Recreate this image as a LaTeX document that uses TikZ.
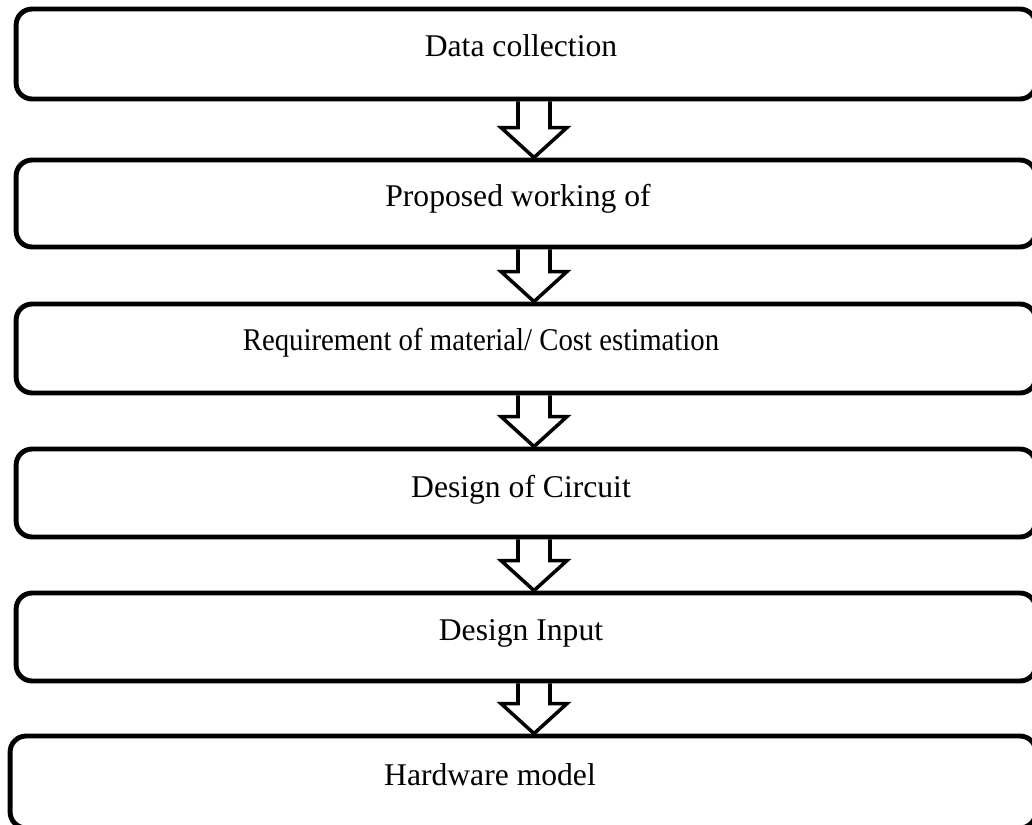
\documentclass[tikz,border=0pt]{standalone}
\usepackage{fontspec}
\setmainfont{Liberation Serif}
\usepackage{graphicx}
\usepackage{tikz}
\usetikzlibrary{positioning,calc}

% hollow block arrow between two stages, along the column (col)
\newcommand{\hollowarrow}[2]{%
  \draw[flow] ($(col |- #1.south)+(-16,0)$) -- ($(col |- #2.north)+(-16,-30)$)
    -- ($(col |- #2.north)+(-33,-30)$) -- (col |- #2.north)
    -- ($(col |- #2.north)+(33,-30)$) -- ($(col |- #2.north)+(16,-30)$)
    -- ($(col |- #1.south)+(16,0)$);}

\begin{document}
\begin{tikzpicture}[x=0.02cm, y=-0.02cm,
    stage/.style={draw, line width=2.8pt, rounded corners=0.32cm, inner sep=0pt,
                  minimum width=20.4cm},
    caption/.style={anchor=base, font=\fontsize{18}{22}\selectfont},
    flow/.style={line width=2pt, line join=miter}]
    \useasboundingbox (0,0) rectangle (1032,825);

    % Stages
    \node[stage, minimum height=1.8cm]  (s1) at (526,54)    {};
    \node[stage, minimum height=1.74cm] (s2) at (526,203.5) {};
    \node[stage, minimum height=1.78cm] (s3) at (526,348.5) {};
    \node[stage, minimum height=1.76cm] (s4) at (526,493)   {};
    \node[stage, minimum height=1.76cm] (s5) at (526,637)   {};
    \node[stage, minimum height=1.84cm, minimum width=20.52cm] (s6) at (523,782) {};

    % Captions
    \node[caption] (t1) at (521,56)  {Data collection};
    \node[caption] (t2) at (518,206) {Proposed working of};
    \node[caption] (t3) at (481,350)
        {\scalebox{0.91}[1]{Requirement of material/ Cost estimation}};
    \node[caption] (t4) at (521,497) {Design of Circuit};
    \node[caption] (t5) at (521,640) {Design Input};
    \node[caption] (t6) at (490,785) {Hardware model};

    % Arrows
    \coordinate (col) at (534,0);
    \hollowarrow{s1}{s2}
    \hollowarrow{s2}{s3}
    \hollowarrow{s3}{s4}
    \hollowarrow{s4}{s5}
    \hollowarrow{s5}{s6}
\end{tikzpicture}
\end{document}
